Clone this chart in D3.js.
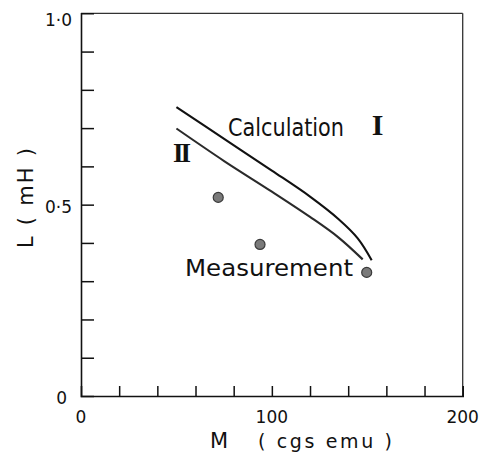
<!DOCTYPE html>
<html>
<head>
<meta charset="utf-8">
<style>
  body { margin: 0; background: #fff; }
  svg { display: block; }
</style>
</head>
<body>
<svg width="489" height="463" font-family="DejaVu Sans, sans-serif"></svg>
<script src="https://d3js.org/d3.v7.min.js"></script>
<script>

// values
var calcI_M  = [50, 75, 100, 120, 135, 145, 152.3];
var calcI_L  = [0.755, 0.672, 0.589, 0.521, 0.462, 0.412, 0.355];
var calcII_M = [50, 75, 100, 120, 135, 147.6];
var calcII_L = [0.699, 0.614, 0.534, 0.468, 0.414, 0.357];
var meas_M   = [71.9, 93.8, 149.7];
var meas_L   = [0.519, 0.396, 0.323];

var xTickVals  = [0, 20, 40, 60, 80, 100, 120, 140, 160, 180, 200];
var yTickVals  = [0, 0.1, 0.2, 0.3, 0.4, 0.5, 0.6, 0.7, 0.8, 0.9, 1.0];
var xLabelVals = [0, 100, 200];
var yLabels    = [{v: 0, t: "0"}, {v: 0.5, t: "0·5"}, {v: 1.0, t: "1·0"}];

var svg = d3.select("svg");

var x = d3.scaleLinear().domain([0, 200]).range([81, 462.7]);
var y = d3.scaleLinear().domain([0, 1]).range([396, 13.3]);

// frame
svg.append("line").attr("x1", x(0)).attr("x2", x(200)).attr("y1", y(1)).attr("y2", y(1))
    .attr("stroke", "#333").attr("stroke-width", 1.3);
svg.append("line").attr("x1", x(200)).attr("x2", x(200)).attr("y1", y(1)).attr("y2", y(0))
    .attr("stroke", "#333").attr("stroke-width", 1.3);

// axes, ticks pointing inward
var xAxis = d3.axisBottom(x).tickValues(xTickVals).tickSize(-10).tickFormat("");
var yAxis = d3.axisLeft(y).tickValues(yTickVals).tickSize(-13).tickFormat("");

var gx = svg.append("g").attr("transform", "translate(0," + y(0) + ")").call(xAxis);
var gy = svg.append("g").attr("transform", "translate(" + x(0) + ",0)").call(yAxis);
[gx, gy].forEach(function(g) {
  g.select(".domain").attr("stroke", "#111").attr("stroke-width", 1.6);
  g.selectAll(".tick line").attr("stroke", "#111").attr("stroke-width", 1.5);
});
gx.selectAll(".tick").filter(function(d) { return d === 0 || d === 200; }).remove();
gy.selectAll(".tick").filter(function(d) { return d === 0 || d === 1; }).remove();

// tick labels
svg.selectAll(".xl").data(xLabelVals).enter().append("text")
    .attr("x", function(d) { return x(d); })
    .attr("y", 423)
    .attr("text-anchor", "middle")
    .attr("font-size", 17)
    .attr("fill", "#111")
    .text(function(d) { return d; });

svg.selectAll(".yl").data(yLabels).enter().append("text")
    .attr("x", function(d) { return d.v === 0 ? 67 : 72; })
    .attr("y", function(d) { return d.v === 0 ? 404 : (d.v === 1 ? 26 : y(d.v) + 8); })
    .attr("text-anchor", "end")
    .attr("font-size", 17)
    .attr("fill", "#111")
    .text(function(d) { return d.t; });

// axis titles
svg.append("text").attr("x", 210).attr("y", 448)
    .attr("font-size", 21).attr("fill", "#111").text("M");
svg.append("text").attr("x", 258).attr("y", 448)
    .attr("font-size", 19).attr("fill", "#111")
    .attr("textLength", 134).attr("lengthAdjust", "spacing")
    .text("( cgs emu )");
svg.append("text")
    .attr("transform", "translate(33,248) rotate(-90)")
    .attr("font-size", 21).attr("fill", "#111")
    .attr("textLength", 100).attr("lengthAdjust", "spacing")
    .text("L ( mH )");

// calculated curves
var line = d3.line()
    .x(function(d) { return x(d[0]); })
    .y(function(d) { return y(d[1]); })
    .curve(d3.curveCatmullRom.alpha(0.5));

svg.append("path")
    .datum(d3.zip(calcI_M, calcI_L))
    .attr("d", line)
    .attr("fill", "none").attr("stroke", "#111").attr("stroke-width", 2.1);

svg.append("path")
    .datum(d3.zip(calcII_M, calcII_L))
    .attr("d", line)
    .attr("fill", "none").attr("stroke", "#2a2a2a").attr("stroke-width", 2.1);

// measurements
svg.selectAll(".dot").data(d3.zip(meas_M, meas_L)).enter().append("circle")
    .attr("cx", function(d) { return x(d[0]); })
    .attr("cy", function(d) { return y(d[1]); })
    .attr("r", 5)
    .attr("fill", "#7a7a7a")
    .attr("stroke", "#3a3a3a")
    .attr("stroke-width", 1.2);

// annotations
svg.append("text").attr("x", 228).attr("y", 136)
    .attr("font-size", 24).attr("fill", "#111")
    .attr("textLength", 116).attr("lengthAdjust", "spacingAndGlyphs")
    .text("Calculation");
svg.append("text").attr("x", 377.5).attr("y", 135)
    .attr("text-anchor", "middle")
    .attr("font-family", "Liberation Serif, serif")
    .attr("font-weight", "bold")
    .attr("font-size", 30).attr("fill", "#111")
    .text("I");
svg.append("text").attr("x", 180.5).attr("y", 162)
    .attr("text-anchor", "middle")
    .attr("font-family", "Liberation Serif, serif")
    .attr("font-weight", "bold")
    .attr("font-size", 27).attr("fill", "#111")
    .attr("letter-spacing", -3)
    .text("II");
svg.append("text").attr("x", 185).attr("y", 276)
    .attr("font-size", 23).attr("fill", "#111")
    .attr("textLength", 168).attr("lengthAdjust", "spacingAndGlyphs")
    .text("Measurement");

</script>
</body>
</html>
